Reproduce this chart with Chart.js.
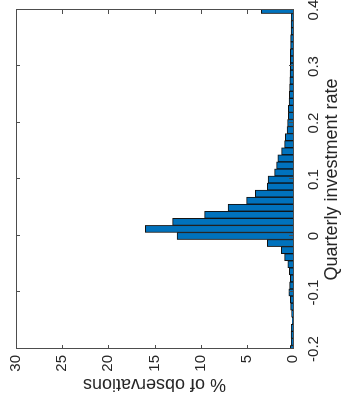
<!DOCTYPE html>
<html>
<head>
<meta charset="utf-8">
<script src="https://cdn.jsdelivr.net/npm/chart.js@4.4.1/dist/chart.umd.min.js"></script>
<style>
html,body{margin:0;padding:0;overflow:hidden;background:#fff;width:343px;height:402px;}
#wrap{position:absolute;left:0;top:0;width:402px;height:343px;transform-origin:0 0;transform:translate(0,402px) rotate(-90deg);}
canvas{display:block;}
</style>
</head>
<body>
<div id="wrap"><canvas id="c" width="402" height="343"></canvas></div>
<script>
// Bin centres of the quarterly investment rate histogram
const binCenters = [
  -0.2, -0.1875, -0.175, -0.1625, -0.15, -0.1375, -0.125, -0.1125,
  -0.1, -0.0875, -0.075, -0.0625, -0.05, -0.0375, -0.025, -0.0125,
  0, 0.0125, 0.025, 0.0375, 0.05, 0.0625, 0.075, 0.0875,
  0.1, 0.1125, 0.125, 0.1375, 0.15, 0.1625, 0.175, 0.1875,
  0.2, 0.2125, 0.225, 0.2375, 0.25, 0.2625, 0.275, 0.2875,
  0.3, 0.3125, 0.325, 0.3375, 0.35, 0.3625, 0.375, 0.3875,
  0.4
];
// % of observations in each bin
const pctObs = [
  0.3, 0.18, 0.2, 0.18, 0.08, 0.15, 0.25, 0.29,
  0.45, 0.37, 0.29, 0.4, 0.56, 0.91, 1.27, 2.77,
  12.56, 16.0, 13.04, 9.57, 7.04, 5.02, 4.08, 2.78,
  2.7, 1.99, 1.77, 1.63, 1.23, 0.91, 0.83, 0.65,
  0.58, 0.51, 0.5, 0.43, 0.4, 0.38, 0.35, 0.32,
  0.3, 0.3, 0.28, 0.25, 0.25, 0.22, 0.2, 0.18,
  3.43
];
const xTickValues = [-0.2, -0.1, 0, 0.1, 0.2, 0.3, 0.4];
const xTickLabels = ['-0.2', '-0.1', '0', '0.1', '0.2', '0.3', '0.4'];
const yTickValues = [0, 5, 10, 15, 20, 25, 30];
const yTickLabels = ['0', '5', '10', '15', '20', '25', '30'];

const AXIS_COLOR = '#4d4d4d';
const TEXT_COLOR = '#262626';
const FONT = 'Liberation Sans, Arial, Helvetica, sans-serif';

const boxPlugin = {
  id: 'matlabBox',
  afterDatasetsDraw(chart) {
    const {ctx, chartArea: a, scales} = chart;
    const tl = 4;
    ctx.save();
    ctx.strokeStyle = AXIS_COLOR;
    ctx.lineWidth = 1;
    ctx.beginPath();
    scales.x.ticks.forEach(t => {
      const px = Math.round(scales.x.getPixelForValue(t.value)) + 0.5;
      ctx.moveTo(px, a.bottom); ctx.lineTo(px, a.bottom - tl);
      ctx.moveTo(px, a.top); ctx.lineTo(px, a.top + tl);
    });
    scales.y.ticks.forEach(t => {
      const py = Math.round(scales.y.getPixelForValue(t.value)) + 0.5;
      ctx.moveTo(a.left, py); ctx.lineTo(a.left + tl, py);
      ctx.moveTo(a.right, py); ctx.lineTo(a.right - tl, py);
    });
    ctx.stroke();
    ctx.strokeRect(Math.round(a.left) + 0.5, Math.round(a.top) + 0.5,
      Math.round(a.right - a.left), Math.round(a.bottom - a.top));
    ctx.restore();
  }
};

new Chart(document.getElementById('c'), {
  type: 'bar',
  data: {
    datasets: [{
      data: binCenters.map((c, i) => ({x: c, y: pctObs[i]})),
      backgroundColor: '#0072BD',
      borderColor: '#111111',
      borderWidth: 1,
      barPercentage: 1,
      categoryPercentage: 1,
      grouped: false
    }]
  },
  options: {
    responsive: false,
    animation: false,
    devicePixelRatio: 1,
    layout: {padding: {left: 0, right: 10, top: 16, bottom: 0}},
    plugins: {legend: {display: false}, tooltip: {enabled: false}},
    scales: {
      x: {
        type: 'linear',
        offset: false,
        min: -0.2, max: 0.4,
        afterBuildTicks: s => { s.ticks = xTickValues.map(v => ({value: v})); },
        afterFit: s => { s.height = 50; s.paddingLeft = 0; s.paddingRight = 0; },
        grid: {display: false, drawTicks: false},
        border: {display: false},
        ticks: {
          padding: 12, color: TEXT_COLOR, maxRotation: 0, autoSkip: false,
          font: {family: FONT, size: 15},
          callback: (v) => xTickLabels[xTickValues.indexOf(Math.round(v * 10) / 10)]
        },
        title: {display: true, text: 'Quarterly investment rate', color: TEXT_COLOR,
          font: {family: FONT, size: 18}, padding: {top: 0, bottom: 0}}
      },
      y: {
        min: 0, max: 30,
        afterBuildTicks: s => { s.ticks = yTickValues.map(v => ({value: v})); },
        afterFit: s => { s.width = 53; s.paddingTop = 0; s.paddingBottom = 0; },
        grid: {display: false, drawTicks: false},
        border: {display: false},
        ticks: {
          padding: 6, color: TEXT_COLOR, autoSkip: false,
          font: {family: FONT, size: 15},
          callback: (v) => yTickLabels[yTickValues.indexOf(v)]
        },
        title: {display: true, text: '% of observations', color: TEXT_COLOR,
          font: {family: FONT, size: 18}, padding: {top: 7, bottom: 0}}
      }
    }
  },
  plugins: [boxPlugin]
});
</script>
</body>
</html>
